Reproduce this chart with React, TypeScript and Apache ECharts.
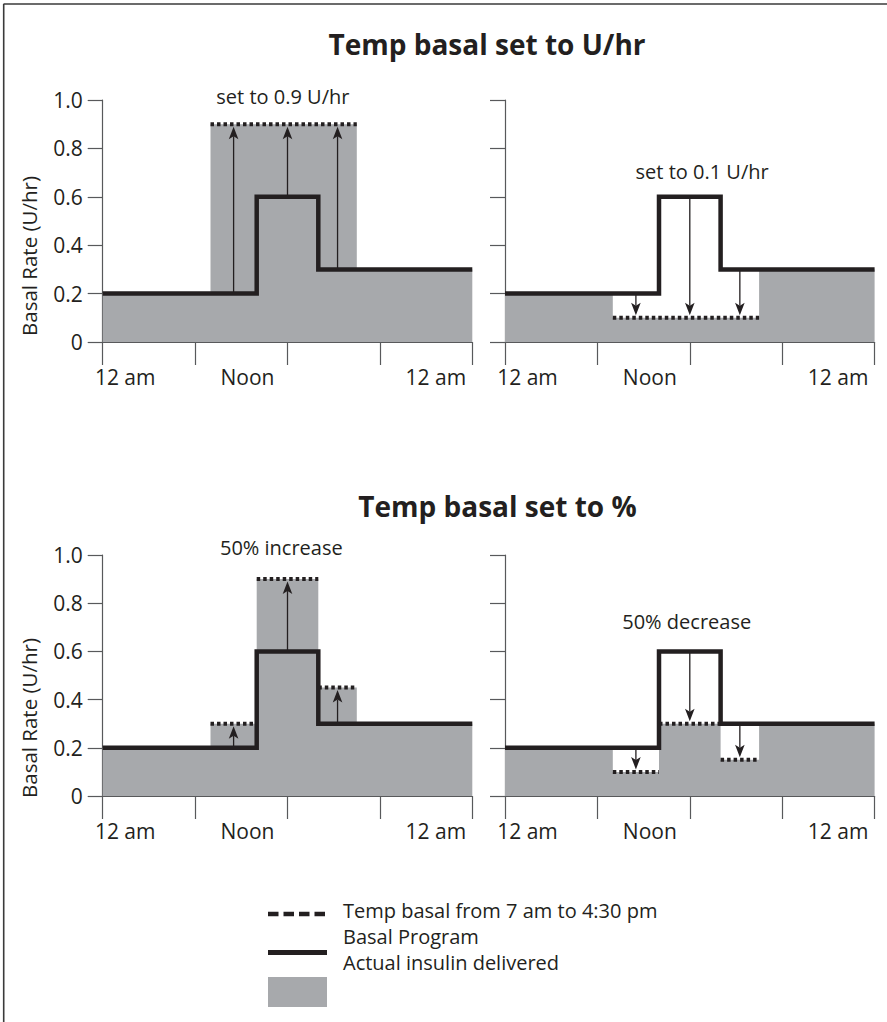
import React, { useEffect, useRef } from 'react';
import * as echarts from 'echarts';

// ---------- data ----------
const xTickLabels: Record<number, string> = { 0: '12 am', 12: 'Noon', 24: '12 am' };
const basalTimes = [0, 10, 14, 24];
const basalRates = [0.2, 0.6, 0.3, 0.3];
const tempSegTimes = [7, 10, 14, 16.5];
const tempFixedUp = [0.9, 0.9, 0.9];
const tempFixedDown = [0.1, 0.1, 0.1];
const tempPctUp = [0.3, 0.9, 0.45];
const tempPctDown = [0.1, 0.3, 0.15];
const arrowTimes = [8.5, 12, 15.25];
const panelTitles = ['Temp basal set to U/hr', 'Temp basal set to %'];
const annotationTexts = ['set to 0.9 U/hr', 'set to 0.1 U/hr', '50% increase', '50% decrease'];
const annotationX = [11.7, 12.8, 11.6, 11.8];
const annotationY = [1.015, 0.704, 1.033, 0.726];
const legendLabels = ['Temp basal from 7 am to 4:30 pm', 'Basal Program', 'Actual insulin delivered'];
const yAxisName = 'Basal Rate (U/hr)';

// ---------- styles / layout ----------
const FONT = "'Open Sans', sans-serif";
const INK = '#231f20';
const AXIS = '#58595b';
const GREY = '#a7a9ac';
const grids = [
  { left: 102.7, top: 100, width: 369.6, height: 242 },
  { left: 505, top: 100, width: 369.6, height: 242 },
  { left: 102.7, top: 555, width: 369.6, height: 241 },
  { left: 505, top: 555, width: 369.6, height: 241 },
];
const panelTemps = [tempFixedUp, tempFixedDown, tempPctUp, tempPctDown];

function basalAt(t: number) {
  let v = basalRates[0];
  for (let i = 0; i < basalTimes.length; i++) if (basalTimes[i] <= t) v = basalRates[i];
  return v;
}

function actualData(temps: number[]) {
  const pts: number[][] = [];
  basalTimes.forEach((t, i) => {
    if (t < tempSegTimes[0]) pts.push([t, basalRates[i]]);
  });
  temps.forEach((v, i) => pts.push([tempSegTimes[i], v]));
  const end = tempSegTimes[tempSegTimes.length - 1];
  pts.push([end, basalAt(end)]);
  basalTimes.forEach((t, i) => {
    if (t > end) pts.push([t, basalRates[i]]);
  });
  return pts;
}

function tempSegments(temps: number[]) {
  const segs: number[][] = [];
  temps.forEach((v, i) => {
    const last = segs[segs.length - 1];
    if (last && last[2] === v) last[1] = tempSegTimes[i + 1];
    else segs.push([tempSegTimes[i], tempSegTimes[i + 1], v]);
  });
  return segs;
}

function buildOption() {
  const xAxis: any[] = [];
  const yAxis: any[] = [];
  const series: any[] = [];
  grids.forEach((g, i) => {
    xAxis.push({
      type: 'value', gridIndex: i, min: 0, max: 24, interval: 6,
      axisLine: { show: true, lineStyle: { color: AXIS, width: 1.2 } },
      axisTick: { show: true, length: 23, lineStyle: { color: AXIS, width: 1.2 } },
      splitLine: { show: false },
      axisLabel: {
        margin: 24, color: INK, fontFamily: FONT, fontSize: 21,
        formatter: (v: number) => {
          if (v === 0) return '{a|' + xTickLabels[0] + '}';
          if (v === 12) return '{b|' + xTickLabels[12] + '}';
          if (v === 24) return '{c|' + xTickLabels[24] + '}';
          return '';
        },
        rich: {
          a: { padding: [0, 0, 0, 45], color: INK, fontFamily: FONT, fontSize: 21 },
          b: { padding: [0, 80, 0, 0], color: INK, fontFamily: FONT, fontSize: 21 },
          c: { padding: [0, 73, 0, 0], color: INK, fontFamily: FONT, fontSize: 21 },
        },
      },
    });
    const left = i % 2 === 0;
    yAxis.push({
      type: 'value', gridIndex: i, min: 0, max: 1, interval: 0.2,
      axisLine: { show: true, lineStyle: { color: AXIS, width: 1.2 } },
      axisTick: { show: true, length: 15, lineStyle: { color: AXIS, width: 1.2 } },
      splitLine: { show: false },
      axisLabel: {
        show: left, margin: 20, color: INK, fontFamily: FONT, fontSize: 21,
        formatter: (v: number) => (v === 0 ? '0' : v.toFixed(1)),
      },
      name: left ? yAxisName : '',
      nameLocation: 'middle',
      nameGap: 63,
      nameRotate: 90,
      nameTextStyle: { color: INK, fontFamily: FONT, fontSize: 20.5, padding: [0, i === 0 ? 70 : 85, 0, 0] },
    });

    const temps = panelTemps[i];
    // actual insulin delivered (grey area)
    series.push({
      type: 'line', xAxisIndex: i, yAxisIndex: i, step: 'end', symbol: 'none', z: 1,
      lineStyle: { width: 0, opacity: 0 },
      areaStyle: { color: GREY, opacity: 1 },
      data: actualData(temps),
    });
    // temp basal dotted segments
    series.push({
      type: 'custom', xAxisIndex: i, yAxisIndex: i, z: 3,
      data: tempSegments(temps),
      renderItem: (_p: any, api: any) => {
        const p0 = api.coord([api.value(0), api.value(2)]);
        const p1 = api.coord([api.value(1), api.value(2)]);
        return {
          type: 'line',
          shape: { x1: p0[0], y1: p0[1], x2: p1[0], y2: p1[1] },
          style: { stroke: INK, lineWidth: 4, lineDash: [3.5, 3], fill: null },
        };
      },
    });
    // arrows
    series.push({
      type: 'custom', xAxisIndex: i, yAxisIndex: i, z: 4,
      data: arrowTimes.map((t, k) => [t, basalAt(t), temps[k]]),
      renderItem: (_p: any, api: any) => {
        const x = api.value(0);
        const p0 = api.coord([x, api.value(1)]);
        const p1 = api.coord([x, api.value(2)]);
        const dir = p1[1] < p0[1] ? -1 : 1;
        const tipY = p1[1] - dir * 2.5;
        const headLen = 12.5, headW = 4.8, notch = 3;
        const baseY = tipY - dir * headLen;
        const px = p0[0];
        return {
          type: 'group',
          children: [
            {
              type: 'line',
              shape: { x1: px, y1: p0[1], x2: px, y2: baseY + dir * notch },
              style: { stroke: INK, lineWidth: 1.3 },
            },
            {
              type: 'polygon',
              shape: { points: [[px, tipY], [px - headW, baseY], [px, baseY + dir * notch], [px + headW, baseY]] },
              style: { fill: INK },
            },
          ],
        };
      },
    });
    // basal program
    series.push({
      type: 'line', xAxisIndex: i, yAxisIndex: i, step: 'end', symbol: 'none', z: 5,
      lineStyle: { width: 4.5, color: INK, join: 'miter', cap: 'butt' },
      data: basalTimes.map((t, k) => [t, basalRates[k]]),
    });
    // annotation
    series.push({
      type: 'custom', xAxisIndex: i, yAxisIndex: i, z: 6,
      data: [[annotationX[i], annotationY[i]]],
      renderItem: (_p: any, api: any) => {
        const p = api.coord([api.value(0), api.value(1)]);
        return {
          type: 'text', x: p[0], y: p[1],
          style: { text: annotationTexts[i], fill: INK, font: `20px ${FONT}`, align: 'center', verticalAlign: 'middle' },
        };
      },
    });
  });

  const legendText = (k: number, y: number) => ({
    type: 'text', x: 343, y,
    style: { text: legendLabels[k], fill: INK, font: `20px ${FONT}`, lineHeight: 20, align: 'left', verticalAlign: 'middle' },
  });

  const graphic: any[] = [
    { type: 'line', shape: { x1: 3.5, y1: 4, x2: 887, y2: 4 }, style: { stroke: '#3a3a3a', lineWidth: 1.6 } },
    { type: 'line', shape: { x1: 3.7, y1: 4, x2: 3.7, y2: 1022 }, style: { stroke: '#3a3a3a', lineWidth: 1.6 } },
    { type: 'text', x: 487, y: 44, style: { text: panelTitles[0], fill: INK, font: `bold 28px ${FONT}`, align: 'center', verticalAlign: 'middle' } },
    { type: 'text', x: 497.5, y: 506, style: { text: panelTitles[1], fill: INK, font: `bold 28px ${FONT}`, align: 'center', verticalAlign: 'middle' } },
    { type: 'line', shape: { x1: 268, y1: 914, x2: 327, y2: 914 }, style: { stroke: INK, lineWidth: 4.5, lineDash: [10.5, 5] } },
    { type: 'line', shape: { x1: 268, y1: 952.5, x2: 327, y2: 952.5 }, style: { stroke: INK, lineWidth: 5 } },
    { type: 'rect', shape: { x: 268, y: 977, width: 59, height: 30 }, style: { fill: GREY } },
    legendText(0, 910),
    legendText(1, 936),
    legendText(2, 962),
  ];

  return {
    animation: false,
    backgroundColor: '#ffffff',
    textStyle: { fontFamily: FONT },
    grid: grids.map((g) => ({ ...g, containLabel: false })),
    xAxis,
    yAxis,
    series,
    graphic,
  };
}

export default function App() {
  const ref = useRef<HTMLDivElement>(null);
  useEffect(() => {
    if (!ref.current) return;
    const chart = echarts.init(ref.current, undefined, { renderer: 'svg' });
    chart.setOption(buildOption() as any);
    return () => chart.dispose();
  }, []);
  return <div ref={ref} style={{ position: 'absolute', left: 0, top: 0, width: 887, height: 1022 }} />;
}
